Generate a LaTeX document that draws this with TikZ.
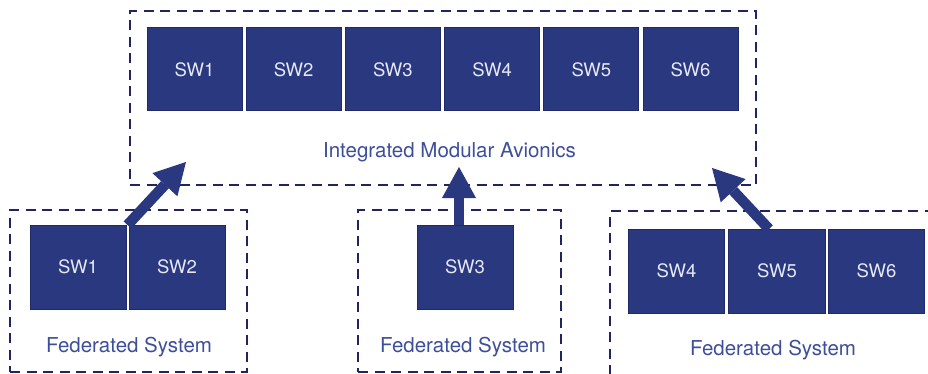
\documentclass[tikz,border=0pt]{standalone}
\usepackage{fontspec}
\setmainfont{TeX Gyre Heros}
\usetikzlibrary{arrows.meta,calc}

\definecolor{swfill}{HTML}{29387F}
\definecolor{swedge}{HTML}{1E2A6A}
\definecolor{frameline}{HTML}{1F2562}
\definecolor{labelblue}{HTML}{3D4E9C}
\definecolor{swtext}{HTML}{E6E8F2}

\tikzset{
  swbox/.style={rectangle, draw=swedge, fill=swfill, line width=1pt,
    inner sep=0pt, outer sep=0pt, minimum width=95pt, minimum height=83pt,
    text=swtext, font=\fontsize{18.5}{20}\selectfont},
  frame/.style={rectangle, draw=frameline, line width=2.6pt,
    dash pattern=on 10pt off 6.5pt, inner sep=0pt, outer sep=0pt},
  caption/.style={text=labelblue, font=\fontsize{20.5}{22}\selectfont, inner sep=0pt},
  bigarrow/.style={draw=swfill, line width=10.5pt,
    -{Triangle[width=34pt,length=31pt,line width=0pt,fill=swfill]}}
}

\begin{document}
\begin{tikzpicture}[x=1pt,y=-1pt]
  \useasboundingbox (0,0) rectangle (928,374);
  \clip (0,0) rectangle (928,374);

  % integrated platform with six software partitions
  \node[frame, minimum width=626pt, minimum height=174pt] (ima) at (443,98) {};
  \foreach \i in {1,...,6} {
    \node[swbox] (t\i) at ({194.5+99.2*(\i-1)},69.5) {SW\i};
  }
  \node[caption] (imalabel) at (449.5,152) {Integrated Modular Avionics};

  % federated system A
  \node[frame, minimum width=237pt, minimum height=162pt] (fedA) at (128.5,291) {};
  \node[swbox, minimum width=96pt, minimum height=84pt] (f1) at (78,267) {SW1};
  \node[swbox, minimum width=96pt, minimum height=84pt] (f2) at (177,267) {SW2};
  \node[caption] (labA) at (129,347) {Federated System};

  % federated system B
  \node[frame, minimum width=203pt, minimum height=162pt] (fedB) at (459.5,291) {};
  \node[swbox, minimum width=96pt, minimum height=84pt] (f3) at (465,267) {SW3};
  \node[caption] (labB) at (463,347) {Federated System};

  % federated system C, running past the right and bottom edges
  \node[frame, minimum width=400pt, minimum height=300pt] (fedC) at (810,361) {};
  \node[swbox, minimum width=96.5pt, minimum height=84pt] (f4) at (676.5,271) {SW4};
  \node[swbox, minimum width=96.5pt, minimum height=84pt] (f5) at (777,271) {SW5};
  \node[swbox, minimum width=96.5pt, minimum height=84pt] (f6) at (876.5,271) {SW6};
  \node[caption] (labC) at (773,350) {Federated System};

  % migration arrows
  \coordinate (tipA) at (186,162);
  \coordinate (tipB) at (459,167);
  \coordinate (tipC) at (712,168);
  \draw[bigarrow] ($(f1.north east)!0.5!(f2.north west)$) -- (tipA);
  \draw[bigarrow] ([xshift=-6pt]f3.north) -- (tipB);
  \draw[bigarrow] ([xshift=-8pt]f5.north) -- (tipC);
\end{tikzpicture}
\end{document}
